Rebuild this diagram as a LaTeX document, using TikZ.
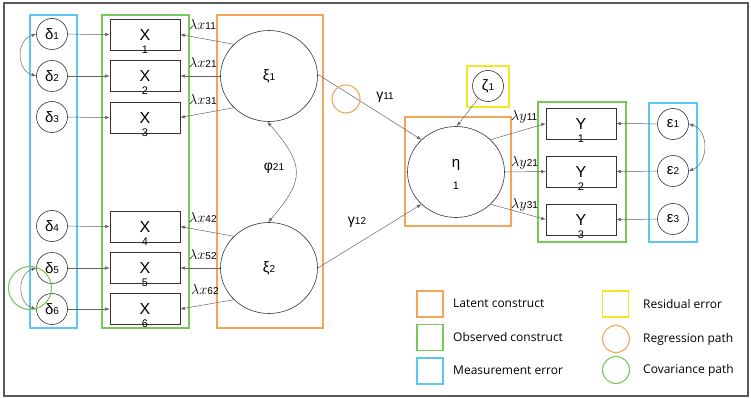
\documentclass[tikz,border=0pt]{standalone}
\usepackage{fontspec}
\setmainfont{Liberation Sans}
\newfontfamily\legendfont{Open Sans}
\usetikzlibrary{arrows.meta,shapes.geometric}
\definecolor{cOrange}{RGB}{245,165,90}
\definecolor{cGreen}{RGB}{120,200,90}
\definecolor{cBlue}{RGB}{90,200,245}
\definecolor{cYellow}{RGB}{240,232,40}
\newcommand\mysub[1]{{\fontsize{10}{10}\selectfont #1}}
\begin{document}
\begin{tikzpicture}[x=1pt,y=-1pt,
  conn/.style={draw=black!60, line width=0.5pt},
  arr/.style={conn, -{Latex[length=4.5pt,width=3.5pt]}},
  darr/.style={conn, {Latex[length=4.5pt,width=3.5pt]}-{Latex[length=4.5pt,width=3.5pt]}},
  obs/.style={draw=black!80, line width=0.6pt, minimum width=70pt, minimum height=31pt, inner sep=0pt, font=\fontsize{16}{16}\selectfont},
  idx/.style={inner sep=0pt, font=\fontsize{11}{11}\selectfont},
  err/.style={circle, draw=black!80, line width=0.6pt, minimum size=31pt, inner sep=0pt, font=\fontsize{15}{15}\selectfont},
  lat/.style={ellipse, draw=black!80, line width=0.6pt, minimum width=97pt, minimum height=91pt, inner sep=0pt, font=\fontsize{15}{15}\selectfont},
  lam/.style={inner sep=0pt, anchor=west, font=\fontsize{14}{14}\selectfont},
  gam/.style={inner sep=0pt, font=\fontsize{14}{14}\selectfont},
  grp/.style={line width=1.1pt},
  legbox/.style={draw, line width=1.1pt, minimum size=26pt, inner sep=0pt},
  legcirc/.style={circle, draw, line width=1.1pt, minimum size=27pt, inner sep=0pt},
  legtext/.style={anchor=west, inner sep=0pt, font=\legendfont\fontsize{12}{12}\selectfont}
]
\useasboundingbox (0,0) rectangle (751,398);
\draw[black!65, line width=1.2pt] (4,3) rectangle (748,396);

% group boxes
\draw[grp, cBlue] (30,15) rectangle (77,328);
\draw[grp, cGreen] (102,15) rectangle (189,328);
\draw[grp, cOrange] (217,15) rectangle (323,328);
\draw[grp, cOrange] (405,117) rectangle (511,226);
\draw[grp, cYellow] (467,66) rectangle (509,107);
\draw[grp, cGreen] (538,102) rectangle (626,242);
\draw[grp, cBlue] (649,103) rectangle (697,242);

% delta error nodes
\node[err] (d1) at (52,34) {δ\mysub{1}};
\node[err] (d2) at (52,76) {δ\mysub{2}};
\node[err] (d3) at (52,117) {δ\mysub{3}};
\node[err] (d4) at (52,226) {δ\mysub{4}};
\node[err] (d5) at (52,268) {δ\mysub{5}};
\node[err] (d6) at (52,309) {δ\mysub{6}};

% X observed nodes
\foreach \i/\y in {1/34.5,2/76,3/117.5,4/226.5,5/268,6/309}{
  \node[obs] (x\i) at (145,\y) {X};
  \node[idx] (x\i n) at ([yshift=1pt]x\i.south) {\i};
}

% latent xi
\node[lat] (xi1) at (269,76) {ξ\mysub{1}};
\node[lat] (xi2) at (269,268) {ξ\mysub{2}};

% eta
\node[lat] (eta) at (456,172) {};
\node[inner sep=0pt, font=\fontsize{15}{15}\selectfont] (etal) at (456,165) {η};
\node[idx] (etan) at (456,186) {1};

% zeta
\node[err] (z1) at (488,86) {ζ\mysub{1}};

% Y observed nodes
\foreach \i/\y in {1/123.5,2/171.5,3/219.5}{
  \node[obs] (y\i) at (581,\y) {Y};
  \node[idx] (y\i n) at ([yshift=1pt]y\i.south) {\i};
}

% epsilon
\node[err] (e1) at (673,124) {ε\mysub{1}};
\node[err] (e2) at (673,171) {ε\mysub{2}};
\node[err] (e3) at (673,219) {ε\mysub{3}};

% delta -> X
\foreach \i in {1,...,6}{ \draw[arr] (d\i) -- (x\i.west); }
% epsilon -> Y
\foreach \i in {1,2,3}{ \draw[arr] (e\i) -- (y\i.east); }

% loadings xi -> X
\draw[arr] (xi1.138) -- (x1.east);
\draw[arr] (xi1.180) -- (x2.east);
\draw[arr] (xi1.222) -- (x3.east);
\draw[arr] (xi2.138) -- (x4.east);
\draw[arr] (xi2.180) -- (x5.east);
\draw[arr] (xi2.222) -- (x6.east);

\node[lam] (l11) at (189,25) {$\lambda x$\mysub{11}};
\node[lam] (l21) at (189,63) {$\lambda x$\mysub{21}};
\node[lam] (l31) at (189,100) {$\lambda x$\mysub{31}};
\node[lam] (l42) at (189,217) {$\lambda x$\mysub{42}};
\node[lam] (l52) at (189,255) {$\lambda x$\mysub{52}};
\node[lam] (l62) at (191,290) {$\lambda x$\mysub{62}};

% eta -> Y
\draw[arr] (eta.43) -- (y1.west);
\draw[arr] (eta.0) -- (y2.west);
\draw[arr] (eta.317) -- (y3.west);
\node[lam] (ly11) at (511,117) {$\lambda y$\mysub{11}};
\node[lam] (ly21) at (511,163) {$\lambda y$\mysub{21}};
\node[lam] (ly31) at (511,205) {$\lambda y$\mysub{31}};

% structural paths
\draw[arr] (xi1.2) -- (eta.137);
\draw[arr] (xi2.0) -- (eta.223);
\draw[arr] (z1) -- (eta.89);
\node[circle, draw=cOrange, line width=1.1pt, minimum size=28pt, inner sep=0pt] (rc) at (346,99) {};
\node[gam] (g11) at (385,97) {γ\mysub{11}};
\node[gam] (g12) at (357,222) {γ\mysub{12}};

% covariances
\draw[darr] (xi1.268) .. controls (305,165) and (305,180) .. (xi2.91);
\node[gam] (phi) at (274,168) {φ\mysub{21}};
\draw[darr] (d1.west) .. controls (16,40) and (16,70) .. (d2.west);
\draw[darr] (d5.west) .. controls (17,274) and (17,303) .. (d6.west);
\node[circle, draw=cGreen, line width=1.1pt, minimum size=43pt, inner sep=0pt] (cc) at (30,288) {};
\draw[darr] (e1.east) .. controls (709,130) and (709,163) .. (e2.east);

% legend
\node[legbox, draw=cOrange] (lg1) at (430,304) {};
\node[legtext] (lt1) at (453,303) {Latent construct};
\node[legbox, draw=cGreen] (lg2) at (430,337.5) {};
\node[legtext] (lt2) at (453,337) {Observed construct};
\node[legbox, draw=cBlue] (lg3) at (430,371) {};
\node[legtext] (lt3) at (453,370) {Measurement error};
\node[legbox, draw=cYellow] (lg4) at (615.5,304) {};
\node[legtext] (lt4) at (643,304) {Residual error};
\node[legcirc, draw=cOrange] (lg5) at (616,339) {};
\node[legtext] (lt5) at (643,339) {Regression path};
\node[legcirc, draw=cGreen] (lg6) at (616,370) {};
\node[legtext] (lt6) at (643,370) {Covariance path};
\end{tikzpicture}
\end{document}
